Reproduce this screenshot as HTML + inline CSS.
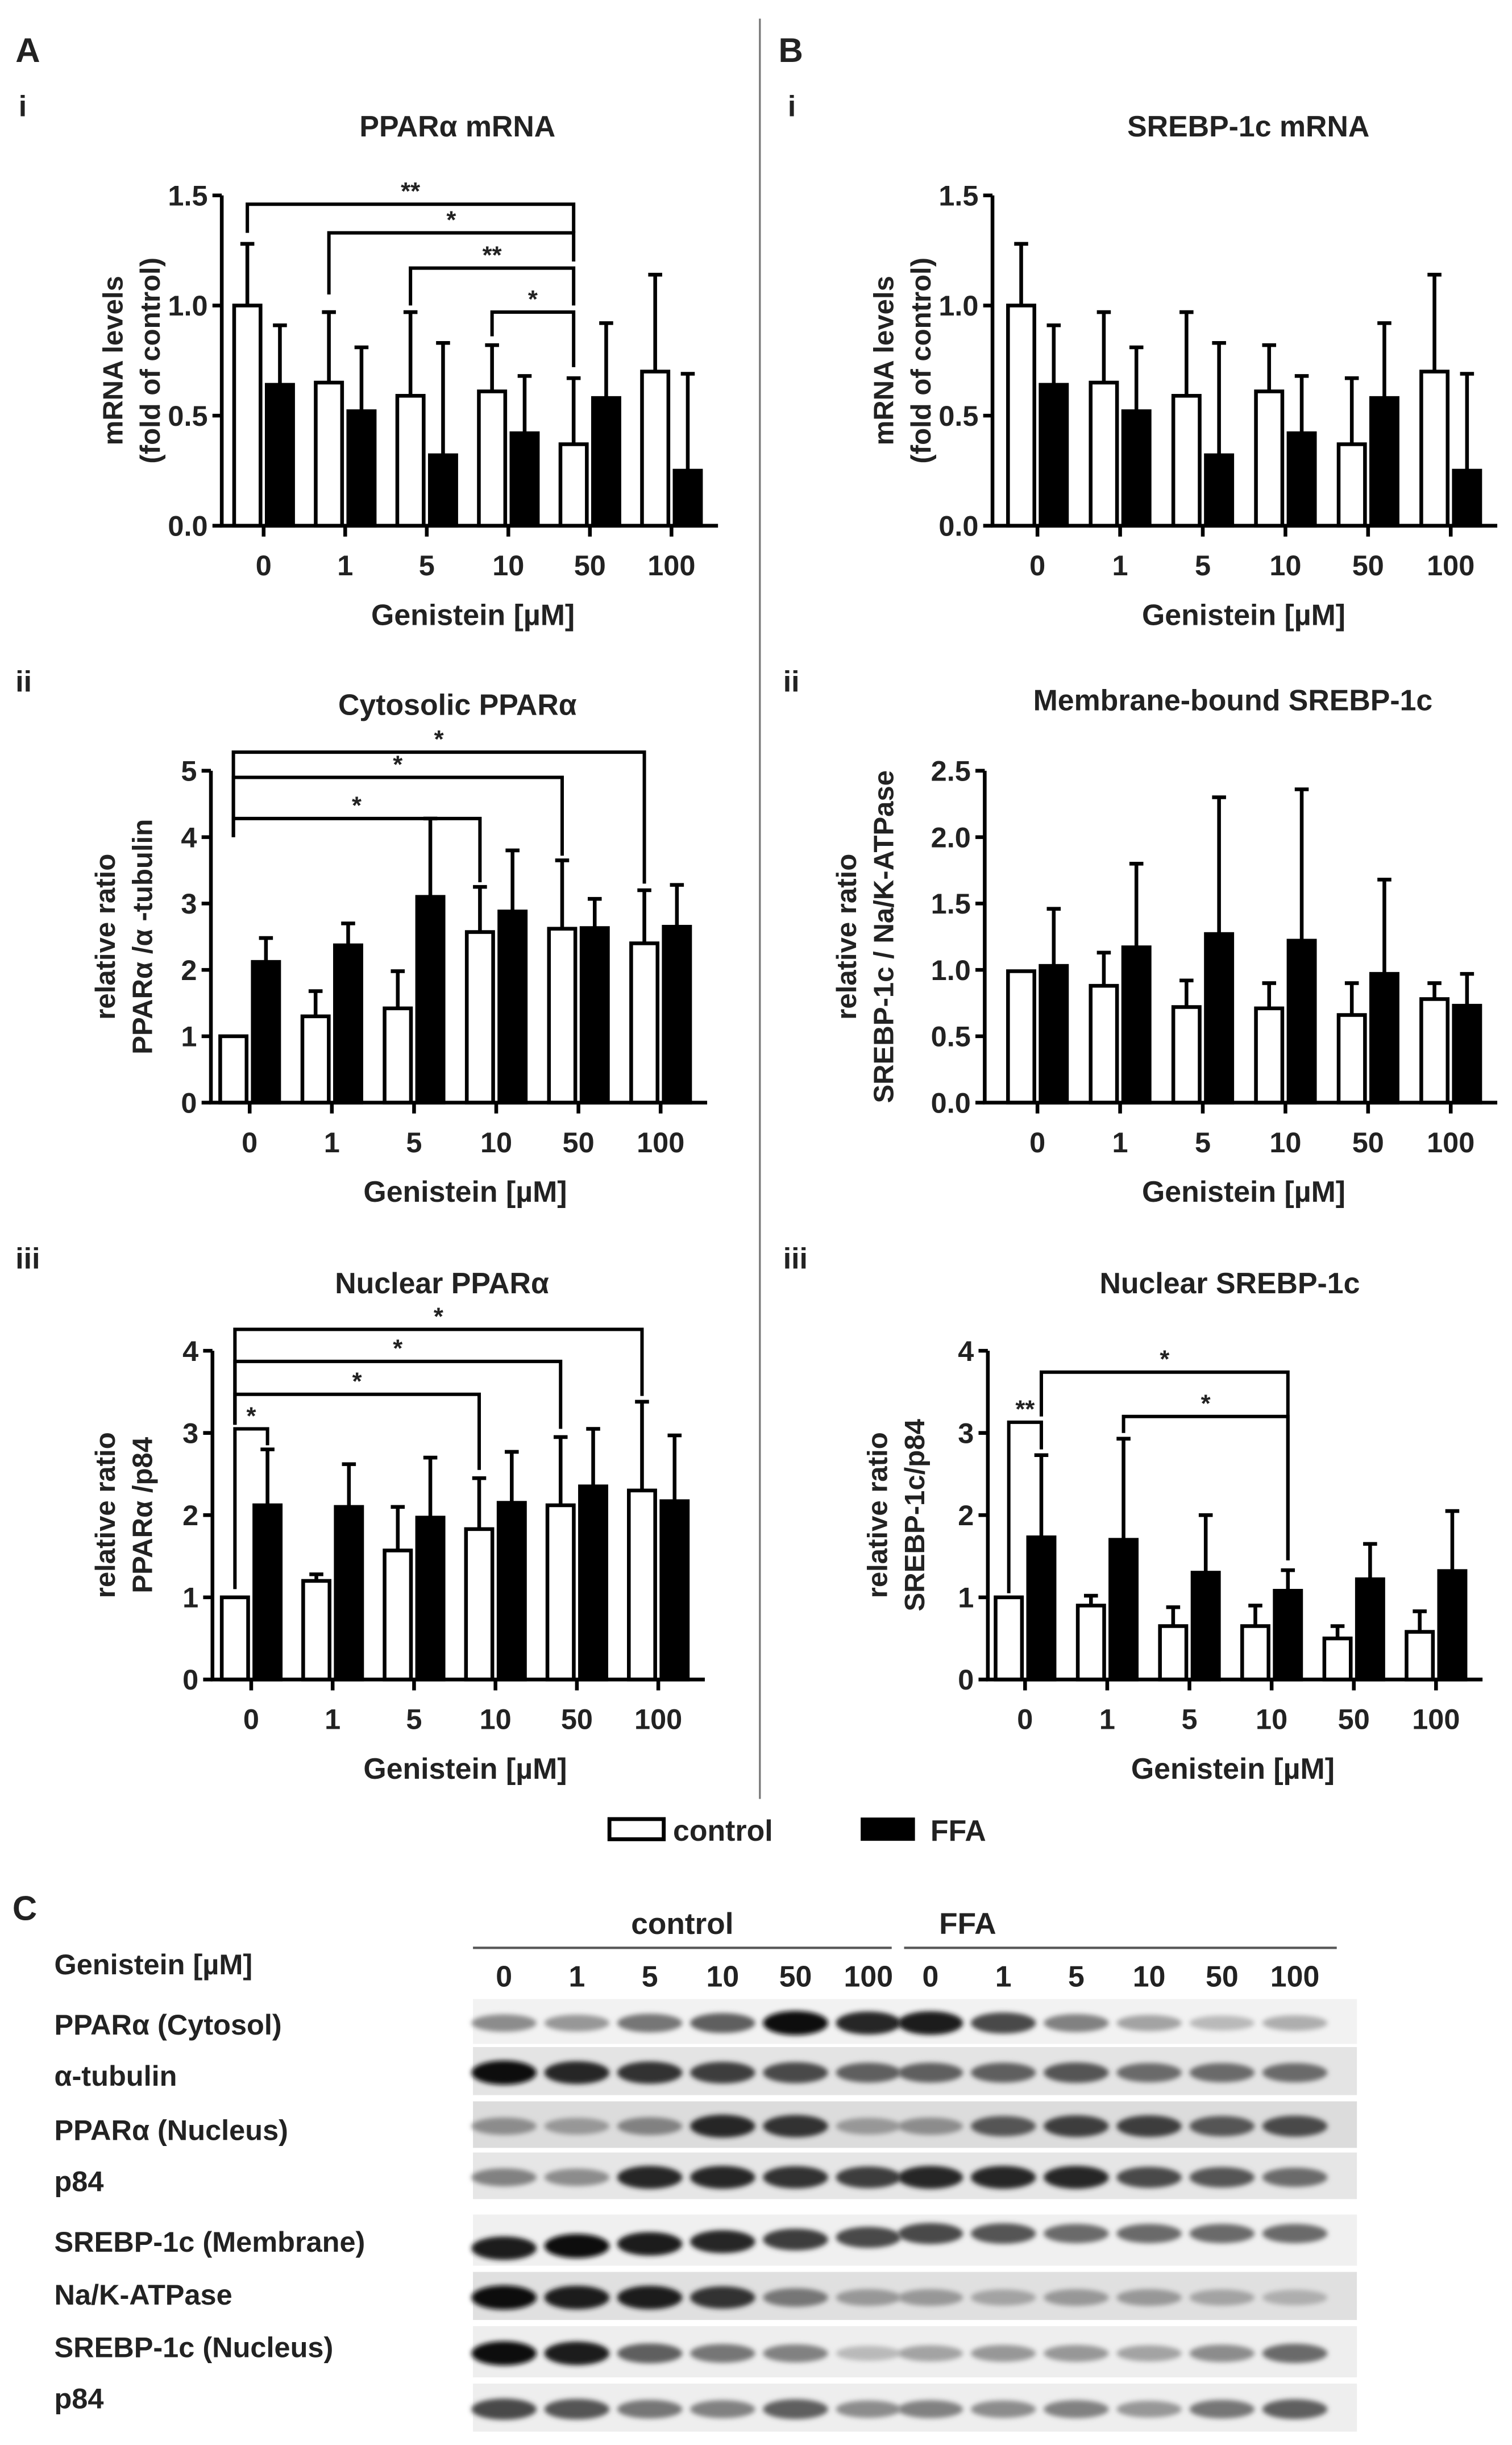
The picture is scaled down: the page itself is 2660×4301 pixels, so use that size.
<!DOCTYPE html>
<html><head><meta charset="utf-8"><style>
html,body{margin:0;padding:0;background:#fff}
svg{display:block}
text{font-family:"Liberation Sans",Arial,sans-serif;font-weight:bold;fill:#222}
</style></head><body>
<svg id="fig" width="2660" height="4301" viewBox="0 0 975 1576.6" preserveAspectRatio="none" xmlns="http://www.w3.org/2000/svg">
<defs><filter id="blur" x="-50%" y="-100%" width="200%" height="300%"><feGaussianBlur stdDeviation="1.6"/></filter></defs>
<text x="10" y="40" font-size="22">A</text>
<text x="502" y="40" font-size="22">B</text>
<text x="12" y="75" font-size="19">i</text>
<text x="508" y="75" font-size="19">i</text>
<text x="10" y="446" font-size="19">ii</text>
<text x="505" y="446" font-size="19">ii</text>
<text x="10" y="818" font-size="19">iii</text>
<text x="505" y="818" font-size="19">iii</text>
<line x1="490" y1="12" x2="490" y2="1160" stroke="#777" stroke-width="1.2"/>
<g id="charts"></g>
<g>
<rect x="393" y="1173" width="35" height="13" fill="#fff" stroke="#000" stroke-width="2.5"/>
<text x="434" y="1187" font-size="19">control</text>
<rect x="555" y="1172" width="35" height="15" fill="#000"/>
<text x="600" y="1187" font-size="19">FFA</text>
</g>
<text x="8" y="1238" font-size="22">C</text>
<g id="blot"></g>
</svg>
<script>
const groups=["0","1","5","10","50","100"];
// A-i / B-i mRNA
const mrnaCtrl=[1.0,0.65,0.59,0.61,0.37,0.70];
const mrnaCtrlErr=[1.28,0.97,0.97,0.82,0.67,1.14];
const mrnaFFA=[0.64,0.52,0.32,0.42,0.58,0.25];
const mrnaFFAErr=[0.91,0.81,0.83,0.68,0.92,0.69];
const mrnaTicks=["0.0","0.5","1.0","1.5"];
// A-ii cytosolic PPARa
const cytCtrl=[1,1.3,1.42,2.57,2.62,2.4];
const cytCtrlErr=[1,1.68,1.98,3.25,3.65,3.2];
const cytFFA=[2.12,2.37,3.1,2.88,2.63,2.65];
const cytFFAErr=[2.48,2.7,4.28,3.8,3.07,3.28];
const cytTicks=["0","1","2","3","4","5"];
// B-ii membrane SREBP
const memCtrl=[0.99,0.88,0.72,0.71,0.66,0.78];
const memCtrlErr=[0.99,1.13,0.92,0.9,0.9,0.9];
const memFFA=[1.03,1.17,1.27,1.22,0.97,0.73];
const memFFAErr=[1.46,1.8,2.3,2.36,1.68,0.97];
const memTicks=["0.0","0.5","1.0","1.5","2.0","2.5"];
// A-iii nuclear PPARa
const nucPCtrl=[1,1.2,1.57,1.83,2.12,2.3];
const nucPCtrlErr=[1,1.28,2.1,2.45,2.95,3.38];
const nucPFFA=[2.12,2.1,1.97,2.15,2.35,2.17];
const nucPFFAErr=[2.8,2.62,2.7,2.77,3.05,2.97];
const nucTicks=["0","1","2","3","4"];
// B-iii nuclear SREBP
const nucSCtrl=[1,0.9,0.65,0.65,0.5,0.58];
const nucSCtrlErr=[1,1.02,0.88,0.9,0.65,0.83];
const nucSFFA=[1.73,1.7,1.3,1.08,1.22,1.32];
const nucSFFAErr=[2.73,2.93,2.0,1.33,1.65,2.05];
// brackets: [fromGroup, fromType, toGroup, toType, level, leftEnd, rightEnd, label]
const bracketsAi=[[0,'c',4,'c',1.46,1.33,1.33,'**'],[1,'c',4,'c',1.33,1.05,1.2,'*'],[2,'c',4,'c',1.17,1.0,1.0,'**'],[3,'c',4,'c',0.97,0.86,0.72,'*']];
const bracketsAii=[[0,'c',5,'c',5.28,4.0,3.3,'*'],[0,'c',4,'c',4.9,4.0,3.72,'*'],[0,'c',3,'c',4.28,4.0,3.32,'*']];
const bracketsAiii=[[0,'c',5,'c',4.26,3.1,3.45,'*'],[0,'c',4,'c',3.87,3.1,3.05,'*'],[0,'c',3,'c',3.47,3.1,2.55,'*'],[0,'c',0,'f',3.05,1.1,2.85,'*']];
const bracketsBiii=[[0,'f',3,'f',3.74,3.2,1.45,'*'],[1,'f',3,'f',3.2,3.0,1.45,'*'],[0,'c',0,'f',3.13,1.05,2.8,'**']];

const NS="http://www.w3.org/2000/svg";
const root=document.getElementById('charts');
function mk(tag,attrs,parent){const e=document.createElementNS(NS,tag);for(const k in attrs)e.setAttribute(k,attrs[k]);(parent||root).appendChild(e);return e;}

function chart(c){
  const g=mk('g',{});
  
  
  const ymax=parseFloat(c.ticks[c.ticks.length-1]);
  const ys=v=>c.y0-(c.y0-c.yTop)*v/ymax;
  const xs=i=>c.cx0+c.dx*i;
  const bx=(i,t)=>t==='c'?xs(i)-10.5:xs(i)+10.5;
  const t=mk('text',{x:c.titleX,y:c.titleY,'font-size':19,'text-anchor':'middle'},g);t.textContent=c.title;
  
  c.ylabel.forEach((s,k)=>{const yl=mk('text',{x:0,y:0,'font-size':18,'text-anchor':'middle',transform:`translate(${c.ylx+k*24},${(c.y0+c.yTop)/2}) rotate(-90)`},g);yl.textContent=s;
    });
  for(let i=0;i<groups.length;i++){
    [['c',c.ctrl,c.ctrlErr],['f',c.ffa,c.ffaErr]].forEach(([tp,vals,errs])=>{
      const x=bx(i,tp);
      const r=mk('rect',{x:x-8.5,y:ys(vals[i]),width:17,height:c.y0-ys(vals[i]),fill:tp==='c'?'#fff':'#000',stroke:'#000','stroke-width':2.4},g);
      
      
      if(errs[i]>vals[i]+0.001){
        const el=mk('path',{d:`M${x},${ys(vals[i])}V${ys(errs[i])}M${x-4.5},${ys(errs[i])}H${x+4.5}`,stroke:'#000','stroke-width':2.4,fill:'none'},g);
        
        
      }
    });
  }
  const ax=mk('path',{d:`M${c.ax},${c.yTop}V${c.y0}H${xs(5)+30}`,stroke:'#000','stroke-width':2.4,fill:'none'},g);
  
  c.ticks.forEach(tk=>{const v=parseFloat(tk);const y=ys(v);
    mk('line',{x1:c.ax-6,x2:c.ax,y1:y,y2:y,stroke:'#000','stroke-width':2.4},g);
    const tt=mk('text',{x:c.ax-9,y:y+6.5,'font-size':18.5,'text-anchor':'end'},g);tt.textContent=tk;
    });
  groups.forEach((gl,i)=>{const x=xs(i);
    mk('line',{x1:x,x2:x,y1:c.y0,y2:c.y0+7,stroke:'#000','stroke-width':2.4},g);
    const tt=mk('text',{x:x,y:c.y0+32,'font-size':18.5,'text-anchor':'middle'},g);tt.textContent=gl;
    });
  const xt=mk('text',{x:c.xtX,y:c.y0+64,'font-size':19,'text-anchor':'middle'},g);xt.textContent='Genistein [µM]';
  
  (c.brackets||[]).forEach(b=>{
    const x1=bx(b[0],b[1]),x2=bx(b[2],b[3]);const y=ys(b[4]);
    const p=mk('path',{d:`M${x1},${ys(b[5])}V${y}H${x2}V${ys(b[6])}`,stroke:'#000','stroke-width':2.2,fill:'none'},g);
    
    const st=mk('text',{x:(x1+x2)/2,y:y-3,'font-size':16,'text-anchor':'middle'},g);st.textContent=b[7];
    
  });
}
chart({name:'chart-a-i-ppara-mrna',title:'PPARα  mRNA',titleX:295,titleY:88,ylabel:['mRNA levels','(fold of control)'],ylx:79,
 ctrl:mrnaCtrl,ctrlErr:mrnaCtrlErr,ffa:mrnaFFA,ffaErr:mrnaFFAErr,ticks:mrnaTicks,y0:339,yTop:126,ax:143,cx0:170,dx:52.6,xtX:305,brackets:bracketsAi});
chart({name:'chart-b-i-srebp-mrna',title:'SREBP-1c mRNA',titleX:805,titleY:88,ylabel:['mRNA levels','(fold of control)'],ylx:576,
 ctrl:mrnaCtrl,ctrlErr:mrnaCtrlErr,ffa:mrnaFFA,ffaErr:mrnaFFAErr,ticks:mrnaTicks,y0:339,yTop:126,ax:640,cx0:669,dx:53.3,xtX:802});
chart({name:'chart-a-ii-cytosolic-ppara',title:'Cytosolic PPARα',titleX:295,titleY:461,ylabel:['relative ratio','PPARα /α -tubulin'],ylx:74,
 ctrl:cytCtrl,ctrlErr:cytCtrlErr,ffa:cytFFA,ffaErr:cytFFAErr,ticks:cytTicks,y0:711,yTop:497,ax:136,cx0:161,dx:53,xtX:300,brackets:bracketsAii});
chart({name:'chart-b-ii-membrane-srebp',title:'Membrane-bound SREBP-1c',titleX:795,titleY:458,ylabel:['relative ratio','SREBP-1c / Na/K-ATPase'],ylx:552,
 ctrl:memCtrl,ctrlErr:memCtrlErr,ffa:memFFA,ffaErr:memFFAErr,ticks:memTicks,y0:711,yTop:497,ax:635,cx0:669,dx:53.3,xtX:802});
chart({name:'chart-a-iii-nuclear-ppara',title:'Nuclear PPARα',titleX:285,titleY:834,ylabel:['relative ratio','PPARα /p84'],ylx:74,
 ctrl:nucPCtrl,ctrlErr:nucPCtrlErr,ffa:nucPFFA,ffaErr:nucPFFAErr,ticks:nucTicks,y0:1083,yTop:871,ax:137,cx0:162,dx:52.5,xtX:300,brackets:bracketsAiii});
chart({name:'chart-b-iii-nuclear-srebp',title:'Nuclear SREBP-1c',titleX:793,titleY:834,ylabel:['relative ratio','SREBP-1c/p84'],ylx:572,
 ctrl:nucSCtrl,ctrlErr:nucSCtrlErr,ffa:nucSFFA,ffaErr:nucSFFAErr,ticks:nucTicks,y0:1083,yTop:871,ax:637,cx0:661,dx:53,xtX:795,brackets:bracketsBiii});

const blotLabels=['PPARα (Cytosol)','α-tubulin','PPARα (Nucleus)','p84','SREBP-1c (Membrane)','Na/K-ATPase','SREBP-1c (Nucleus)','p84'];
const blotIntensity=[
 [0.4,0.35,0.5,0.6,0.95,0.85,0.9,0.7,0.45,0.3,0.2,0.25],
 [0.95,0.85,0.8,0.75,0.7,0.6,0.6,0.6,0.65,0.55,0.55,0.55],
 [0.4,0.35,0.45,0.85,0.8,0.35,0.4,0.65,0.75,0.75,0.65,0.7],
 [0.45,0.4,0.85,0.85,0.8,0.75,0.85,0.85,0.85,0.7,0.65,0.55],
 [0.9,0.95,0.9,0.85,0.75,0.7,0.7,0.65,0.55,0.55,0.55,0.55],
 [0.95,0.9,0.9,0.8,0.5,0.35,0.35,0.3,0.35,0.35,0.3,0.25],
 [0.95,0.9,0.6,0.5,0.45,0.2,0.3,0.35,0.35,0.3,0.4,0.55],
 [0.7,0.65,0.5,0.45,0.6,0.4,0.45,0.4,0.45,0.35,0.5,0.6]];
const blot=document.getElementById('blot');
const rowTop=[1289,1320,1355,1388,1428,1465,1500,1537];
const rowH=[31,33,32,32,35,33,35,33];
const labelY=[1312,1345,1380,1413,1452,1486,1520,1553];
const bgCol=['#f2f2f2','#e4e4e4','#dcdcdc','#e6e6e6','#f0f0f0','#e0e0e0','#eeeeee','#eeeeee'];
const lx=i=>i<6?325+47*i:600+47*(i-6);
let tt=mk('text',{x:35,y:1273,'font-size':18.5},blot);tt.textContent='Genistein [µM]';

tt=mk('text',{x:440,y:1247,'font-size':19.5,'text-anchor':'middle'},blot);tt.textContent='control';

tt=mk('text',{x:624,y:1247,'font-size':19.5,'text-anchor':'middle'},blot);tt.textContent='FFA';

mk('line',{x1:305,x2:575,y1:1256,y2:1256,stroke:'#555','stroke-width':1.5},blot);
mk('line',{x1:583,x2:862,y1:1256,y2:1256,stroke:'#555','stroke-width':1.5},blot);
for(let i=0;i<12;i++){const t=mk('text',{x:lx(i),y:1281,'font-size':19,'text-anchor':'middle'},blot);t.textContent=groups[i%6];
 }
blotLabels.forEach((s,r)=>{
 const t=mk('text',{x:35,y:labelY[r],'font-size':18.5},blot);t.textContent=s;
 
 const bg=mk('rect',{x:305,y:rowTop[r],width:570,height:rowH[r]-2,fill:bgCol[r]},blot);
 
 blotIntensity[r].forEach((v,i)=>{
   let cy=rowTop[r]+rowH[r]*0.5;
   if(r===4) cy=rowTop[r]+rowH[r]*(i<6?0.62-0.04*i:0.35);
   const g=Math.round(230-225*v);
   const e=mk('ellipse',{cx:lx(i),cy:cy,rx:21,ry:4+4*v,fill:`rgb(${g},${g},${g})`,filter:'url(#blur)'},blot);
   
   
 });
});
</script>
</body></html>
